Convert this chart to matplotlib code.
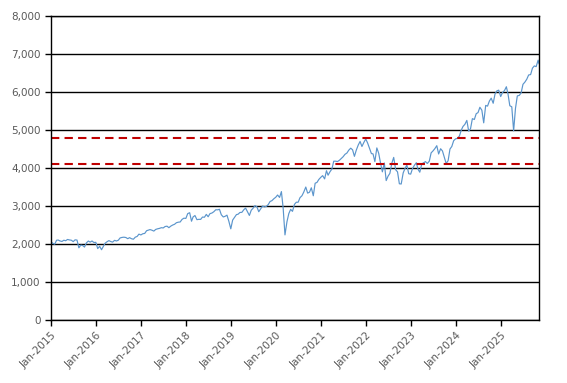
import matplotlib.pyplot as plt
import matplotlib.dates as mdates
import matplotlib.ticker as mticker
import pandas as pd

# index level, two readings per month (mid-month, month-end)
y2015 = [2020, 1995, 2100, 2105, 2080, 2068, 2100, 2086, 2120, 2107, 2100, 2063,
         2110, 2104, 1900, 1972, 1960, 1920, 2030, 2079, 2050, 2080, 2040, 2044]
y2016 = [1880, 1940, 1850, 1932, 2020, 2060, 2090, 2065, 2050, 2097, 2080, 2099,
         2160, 2174, 2180, 2171, 2140, 2168, 2140, 2126, 2180, 2199, 2260, 2239]
y2017 = [2270, 2279, 2350, 2364, 2380, 2363, 2340, 2384, 2400, 2412, 2430, 2423,
         2460, 2470, 2430, 2472, 2500, 2519, 2560, 2575, 2580, 2648, 2680, 2674]
y2018 = [2800, 2824, 2600, 2714, 2750, 2641, 2650, 2648, 2710, 2705, 2780, 2718,
         2800, 2816, 2850, 2902, 2900, 2914, 2770, 2712, 2730, 2760, 2600, 2400]
y2019 = [2630, 2704, 2775, 2784, 2830, 2834, 2900, 2946, 2850, 2752, 2890, 2942,
         3010, 2980, 2850, 2926, 3000, 2977, 2990, 3038, 3120, 3141, 3190, 3231]
y2020 = [3290, 3226, 3380, 2954, 2240, 2585, 2800, 2912, 2860, 3044, 3100, 3100,
         3220, 3271, 3370, 3500, 3340, 3363, 3480, 3270, 3600, 3622, 3700, 3756]
y2021 = [3800, 3714, 3930, 3811, 3900, 3973, 4180, 4181, 4170, 4204, 4250, 4297,
         4360, 4395, 4470, 4523, 4480, 4308, 4470, 4605, 4700, 4567, 4670, 4766]
y2022 = [4660, 4516, 4380, 4374, 4170, 4530, 4390, 4132, 3900, 4132, 3670, 3785,
         3860, 4130, 4280, 3955, 3900, 3586, 3580, 3872, 3990, 4080, 3850, 3840]
y2023 = [3990, 4077, 4140, 3970, 3890, 4109, 4140, 4169, 4120, 4180, 4400, 4450,
         4510, 4589, 4370, 4508, 4450, 4288, 4120, 4194, 4500, 4568, 4720, 4770]
y2024 = [4780, 4846, 5000, 5096, 5150, 5254, 4970, 5036, 5300, 5278, 5430, 5460,
         5600, 5522, 5190, 5648, 5630, 5762, 5840, 5705, 5950, 6032, 6050, 5882]
y2025 = [5990, 6040, 6140, 5955, 5640, 5612, 4980, 5569, 5900, 5912, 5980, 6205,
         6260, 6339, 6450, 6460, 6630, 6688, 6670, 6840]
start_value = 2058
last_value = 6750

upper_level = 4800
lower_level = 4100

values = [start_value] + y2015 + y2016 + y2017 + y2018 + y2019 + y2020 + y2021 \
    + y2022 + y2023 + y2024 + y2025 + [last_value]

dates = [pd.Timestamp("2015-01-01")]
for p in pd.period_range("2015-01", "2025-10", freq="M"):
    dates.append(p.start_time + pd.Timedelta(days=14))
    dates.append(p.end_time.normalize())
dates.append(pd.Timestamp("2025-11-07"))

fig = plt.figure(figsize=(5.67, 3.83), dpi=100)
ax = fig.add_axes([0.09, 0.1645, 0.8606, 0.7935])

ax.plot(dates, values, color="#5b95cc", linewidth=0.85)
ax.axhline(upper_level, color="#c00000", linewidth=1.5, linestyle=(0, (4, 2.5)))
ax.axhline(lower_level, color="#c00000", linewidth=1.5, linestyle=(0, (4, 2.5)))

ax.set_ylim(0, 8000)
ax.set_xlim(dates[0], dates[-1])
ax.yaxis.set_major_locator(mticker.MultipleLocator(1000))
ax.yaxis.set_major_formatter(mticker.StrMethodFormatter("{x:,.0f}"))
ax.grid(axis="y", color="black", linewidth=1)
ax.set_axisbelow(True)

ax.xaxis.set_major_locator(mdates.YearLocator(month=1, day=1))
ax.xaxis.set_major_formatter(mdates.DateFormatter("%b-%Y"))
plt.setp(ax.get_xticklabels(), rotation=45, ha="right", rotation_mode="anchor")

for s in ax.spines.values():
    s.set_color("black")
    s.set_linewidth(1)
ax.tick_params(labelsize=7.5, labelcolor="#595959", length=4, width=1, color="black")

plt.savefig("out.png", dpi=100)
